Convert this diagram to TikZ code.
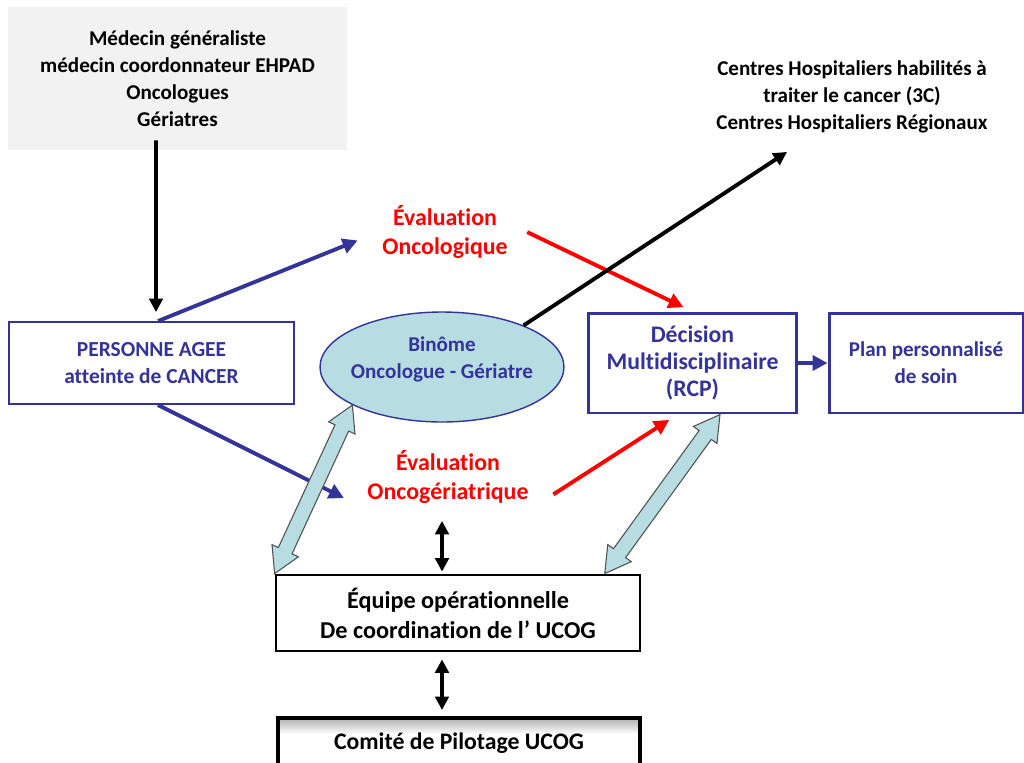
\documentclass[tikz,border=0pt]{standalone}
\usepackage{fontspec}
\setmainfont{Carlito}[Ligatures=NoCommon]
\usetikzlibrary{arrows.meta,calc,shapes.geometric,shapes.arrows}
\definecolor{ucogblue}{RGB}{51,51,153}
\definecolor{binfill}{RGB}{183,221,226}
\definecolor{genfill}{RGB}{242,242,242}
\definecolor{fatedge}{RGB}{80,80,80}
\tikzset{
  txt/.style={align=center, inner sep=2pt, font=\fontsize{12}{15.3}\selectfont\bfseries},
  bluebox/.style={txt, draw=ucogblue, text=ucogblue},
  evaltxt/.style={txt, text=red, font=\fontsize{13.6}{17}\selectfont\bfseries},
  blkarrow/.style={line width=2.2pt, -{Triangle[length=0.27cm,width=0.27cm]}},
  blkdbl/.style={line width=2.2pt, {Triangle[length=0.27cm,width=0.27cm]}-{Triangle[length=0.27cm,width=0.27cm]}},
  bluearrow/.style={line width=2.2pt, draw=ucogblue, -{Triangle[length=0.3cm,width=0.3cm]}},
  redarrow/.style={line width=2.2pt, draw=red, -{Triangle[length=0.3cm,width=0.3cm]}},
  fatarrow/.style={double arrow, draw=fatedge, fill=binfill, line width=0.6pt, inner xsep=0pt, inner ysep=0.14cm,
    minimum width=0.56cm, double arrow head extend=0.14cm, double arrow tip angle=60}
}
\begin{document}
\begin{tikzpicture}[x=0.02cm,y=-0.02cm]
\clip (0,0) rectangle (1024,762);
\fill[white] (0,0) rectangle (1024,762);
\node[txt, fill=genfill, minimum width=6.78cm, minimum height=2.86cm] (gen) at (177.5,78.5) {Médecin généraliste\\médecin coordonnateur EHPAD\\Oncologues\\Gériatres};
\node[bluebox, line width=1.1pt, font=\fontsize{12.2}{15.3}\selectfont\bfseries, minimum width=5.7cm, minimum height=1.64cm] (pers) at (151.5,363) {PERSONNE AGEE\\atteinte de CANCER};
\node[ellipse, draw=ucogblue, fill=binfill, line width=0.8pt, inner sep=0pt, minimum width=4.88cm, minimum height=2.2cm,
  label={[txt, name=bintxt, text=ucogblue, yshift=0.15cm]center:{Binôme\\Oncologue - Gériatre}}] (bin) at (442,367) {};
\node[bluebox, line width=1.7pt, font=\fontsize{13.5}{15.3}\selectfont\bfseries, minimum width=4.18cm, minimum height=2cm] (dec) at (692.5,363) {Décision\\Multidisciplinaire\\(RCP)};
\node[bluebox, line width=1.7pt, minimum width=3.88cm, minimum height=2cm] (plan) at (926,363) {Plan personnalisé\\de soin};
\node[evaltxt] (evo) at (445,232) {Évaluation\\Oncologique};
\node[evaltxt] (evg) at (448,477) {Évaluation\\Oncogériatrique};
\node[txt] (chr) at (852,97) {Centres Hospitaliers habilités à\\traiter le cancer (3C)\\Centres Hospitaliers Régionaux};
\node[txt, draw, line width=1.6pt, font=\fontsize{13.8}{17}\selectfont\bfseries, minimum width=7.28cm, minimum height=1.52cm] (equ) at (458,613) {Équipe opérationnelle\\De coordination de l’ UCOG};
\shade[top color=black!30, bottom color=white] (279,719) rectangle (639,734);
\draw[line width=2pt] (278,790) |- (640,718) -- (640,790);
\node[txt, font=\fontsize{13.5}{16}\selectfont\bfseries] (com) at (459,743) {Comité de Pilotage UCOG};
\coordinate (comtop) at (442,718);
\draw[blkarrow, shorten >=0.18cm] ([xshift=-0.43cm,yshift=0.2cm]gen.south) -- ([xshift=0.09cm]pers.north);
\draw[bluearrow, shorten >=0.45cm] ([xshift=0.13cm]pers.north) -- (evo.west);
\draw[bluearrow, shorten >=0.44cm] ([xshift=0.13cm]pers.south) -- (evg.south west);
\draw[redarrow, shorten <=0.35cm, shorten >=0.2cm] ([yshift=0.15cm]evo.east) -- (dec.north);
\draw[redarrow, shorten <=0.5cm, shorten >=0.2cm] (evg.south east) -- ([xshift=-0.3cm]dec.south);
\draw[blkarrow] (bin.27) -- ([xshift=-1.3cm,yshift=-0.3cm]chr.south);
\draw[bluearrow] (dec.east) -- (plan.west);
\draw[blkdbl, shorten <=0.04cm] ([xshift=-0.32cm]equ.north) -- ([xshift=-0.32cm,yshift=-0.26cm]equ.north |- evg.south);
\draw[blkdbl, shorten <=0.14cm, shorten >=0.16cm] ([xshift=-0.32cm]equ.south) -- (comtop);
\path let \p1=($(bin.203)-(equ.north west)$), \n1={atan2(\y1,\x1)}, \n2={veclen(\x1,\y1)} in
  node[fatarrow, rotate=\n1, minimum height=\n2] at ($(equ.north west)!0.5!(bin.203)$) {};
\path let \p1=($($(dec.south west)!0.63!(dec.south east)$)-($(equ.north west)!0.9!(equ.north east)$)$), \n1={atan2(\y1,\x1)}, \n2={veclen(\x1,\y1)} in
  node[fatarrow, rotate=\n1, minimum height=\n2] at ($($(equ.north west)!0.9!(equ.north east)$)!0.5!($(dec.south west)!0.63!(dec.south east)$)$) {};
\end{tikzpicture}
\end{document}
